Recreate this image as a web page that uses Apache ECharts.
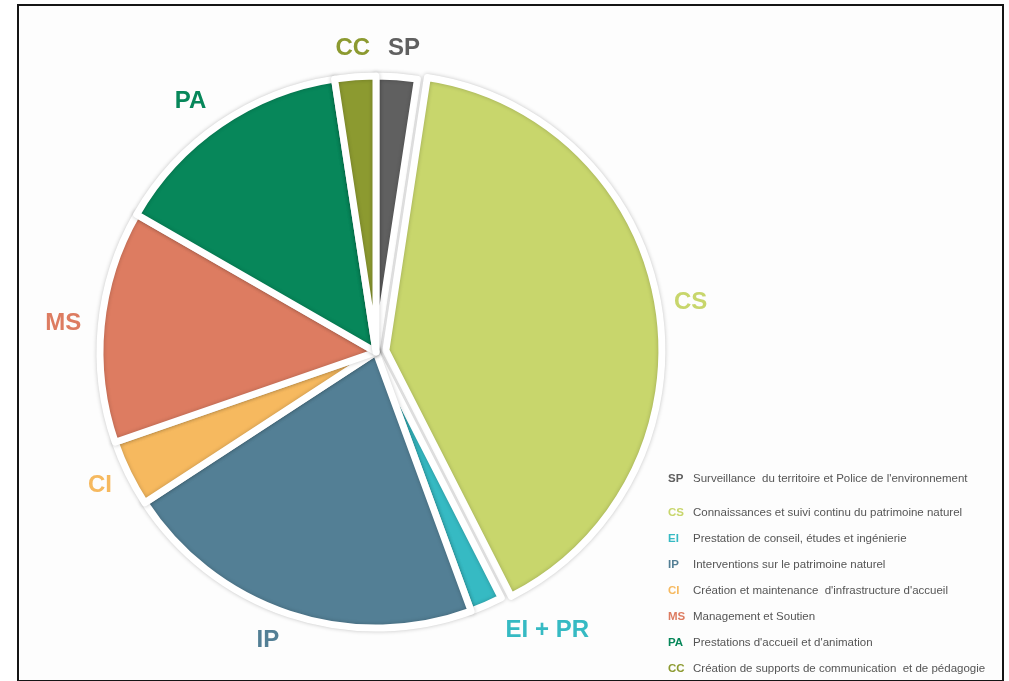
<!DOCTYPE html>
<html>
<head>
<meta charset="utf-8">
<script src="https://cdn.jsdelivr.net/npm/echarts@6/dist/echarts.min.js"></script>
<style>
html,body{margin:0;padding:0;background:#fff;}
#chart{width:1009px;height:681px;}
</style>
</head>
<body>
<div id="chart"></div>
<script>
// Data (percent of total, read clockwise from 12 o'clock)
const codes = ['SP', 'CS', 'EI', 'IP', 'CI', 'MS', 'PA', 'CC'];
const pieLabels = ['SP', 'CS', 'EI + PR', 'IP', 'CI', 'MS', 'PA', 'CC'];
const values = [2.4, 40.1, 1.9, 21.4, 3.9, 13.6, 14.3, 2.4];
const descriptions = [
  "Surveillance  du territoire et Police de l'environnement",
  "Connaissances et suivi continu du patrimoine naturel",
  "Prestation de conseil, études et ingénierie",
  "Interventions sur le patrimoine naturel",
  "Création et maintenance  d'infrastructure d'accueil",
  "Management et Soutien",
  "Prestations d'accueil et d'animation",
  "Création de supports de communication  et de pédagogie"
];

// Styles
const colors = ['#606060', '#c8d66c', '#36bac3', '#537f95', '#f6b95f', '#dd7c61', '#07875a', '#8c9a30'];
const labelNudge = [-16, -17, 3, -4, -14, -13, -7, -22];

const pieData = codes.map((c, i) => ({
  name: c,
  value: values[i],
  selected: c === 'CS',
  itemStyle: { color: colors[i] },
  label: { color: colors[i] },
  labelLine: { length2: labelNudge[i] }
}));

const rich = { d: { color: '#555555', fontSize: 11.5, fontFamily: 'Liberation Sans', lineHeight: 14 } };
codes.forEach((c, i) => {
  rich['c' + i] = { color: colors[i], fontSize: 11.5, fontWeight: 'bold', fontFamily: 'Liberation Sans', width: 25, lineHeight: 14 };
});
const legendFormatter = name => {
  const i = codes.indexOf(name);
  return '{c' + i + '|' + name + '}{d|' + descriptions[i] + '}';
};
const legendBase = {
  orient: 'vertical',
  left: 658,
  icon: 'none',
  itemWidth: 0,
  itemHeight: 14,
  itemGap: 13,
  selectedMode: false,
  formatter: legendFormatter,
  textStyle: { rich: rich, padding: 0 }
};

const chart = echarts.init(document.getElementById('chart'), null, { renderer: 'canvas' });
chart.setOption({
  backgroundColor: '#ffffff',
  animation: false,
  graphic: [{
    type: 'rect',
    shape: { x: 18, y: 5, width: 985, height: 676 },
    style: { fill: '#fdfdfd', stroke: '#151515', lineWidth: 2 },
    z: -10
  }],
  legend: [
    Object.assign({}, legendBase, { top: 467, data: codes.slice(0, 1) }),
    Object.assign({}, legendBase, { top: 501, data: codes.slice(1) })
  ],
  series: [{
    type: 'pie',
    center: [376, 352],
    radius: [0, 276],
    startAngle: 90,
    clockwise: true,
    avoidLabelOverlap: false,
    selectedMode: 'single',
    selectedOffset: 10,
    data: pieData,
    itemStyle: {
      borderColor: '#ffffff',
      borderWidth: 7,
      shadowBlur: 4,
      shadowColor: 'rgba(0,0,0,0.22)'
    },
    label: {
      show: true,
      position: 'outside',
      formatter: p => pieLabels[p.dataIndex],
      fontSize: 24,
      fontWeight: 'bold',
      fontFamily: 'Liberation Sans'
    },
    labelLine: { show: false, length: 28, length2: 0 },
    emphasis: { disabled: true }
  }]
});
</script>
</body>
</html>
